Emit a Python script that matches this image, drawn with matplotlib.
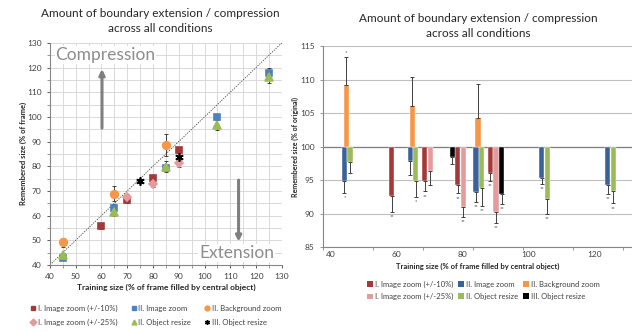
import numpy as np
import matplotlib.pyplot as plt
from matplotlib.patches import Patch
from matplotlib.lines import Line2D

plt.rcParams['font.family'] = ['Lato', 'DejaVu Sans']

# Data per condition: training size, remembered size (% of frame),
# remembered size (% of original), error, significance marks
red_x = [60, 70, 80, 90]
red_frame = [55.7, 66.2, 75.1, 86.6]
red_frame_err = [1.3, 1.1, 1.0, 1.0]
red_orig = [92.6, 94.9, 94.2, 96.0]
red_err = [2.3, 1.6, 1.2, 1.1]
red_sig = ['**', '**', '**', '**']

pink_x = [70, 80, 90]
pink_frame = [67.4, 72.8, 81.2]
pink_frame_err = [1.5, 1.2, 1.5]
pink_orig = [96.4, 91.0, 90.3]
pink_err = [2.1, 1.5, 1.7]
pink_sig = ['', '**', '**']

blue_x = [45, 65, 85, 105, 125]
blue_frame = [42.8, 63.2, 79.3, 99.9, 117.9]
blue_frame_err = [1.0, 1.3, 1.3, 1.0, 1.7]
blue_orig = [94.9, 97.8, 93.2, 95.3, 94.3]
blue_err = [1.8, 2.0, 1.5, 0.9, 1.4]
blue_sig = ['*', '', '**', '**', '**']

orange_x = [45, 65, 85]
orange_frame = [49.2, 68.9, 88.6]
orange_frame_err = [1.9, 2.9, 4.3]
orange_orig = [109.25, 106.0, 104.3]
orange_err = [4.2, 4.4, 5.1]
orange_sig = ['*', '', '']

green_x = [45, 65, 85, 105, 125]
green_frame = [43.9, 61.5, 79.8, 96.8, 116.3]
green_frame_err = [1.0, 1.5, 2.3, 2.3, 2.4]
green_orig = [97.7, 94.9, 93.8, 92.2, 93.4]
green_err = [1.7, 2.4, 2.7, 2.2, 1.9]
green_sig = ['', '*', '**', '**', '**']

black_x = [75, 90]
black_frame = [74.0, 83.9]
black_frame_err = [0.8, 1.4]
black_orig = [98.4, 92.9]
black_err = [1.0, 1.5]
black_sig = ['', '**']

labels = ['I. Image zoom (+/-10%)', 'I. Image zoom (+/-25%)', 'II. Image zoom',
          'II. Object resize', 'II. Background zoom', 'III. Object resize']

c_red = '#A5393A'
c_pink = '#E29C9C'
c_blue_l = '#4F81BD'
c_blue_r = '#3A6298'
c_orange = '#F79646'
c_green = '#9BBB59'
c_black = '#000000'

title = 'Amount of boundary extension / compression\nacross all conditions'
xlab = 'Training size (% of frame filled by central object)'

fig = plt.figure(figsize=(6.32, 3.32), dpi=100)

# ---------------- left: scatter ----------------
ax1 = fig.add_axes([0.079, 0.202, 0.367, 0.669])
ax1.set_xlim(40, 130)
ax1.set_ylim(40, 130)
ax1.set_xticks(np.arange(40, 131, 10))
ax1.set_yticks(np.arange(40, 131, 10))
ax1.set_xticks(np.arange(45, 130, 10), minor=True)
ax1.set_yticks(np.arange(45, 130, 10), minor=True)
ax1.grid(which='both', color='#D9D9D9', lw=0.7)
ax1.set_axisbelow(True)
for s in ['top', 'right']:
    ax1.spines[s].set_visible(False)
for s in ['left', 'bottom']:
    ax1.spines[s].set_color('#868686')
ax1.tick_params(labelsize=6, colors='#404040', length=2.5, width=0.6)
ax1.tick_params(which='minor', length=2.5, width=0.6, color='#868686')
ax1.plot([40, 130], [40, 130], ls=(0, (1.5, 1.5)), color='#404040', lw=0.6, zorder=1)

ax1.text(42.2, 125, 'Compression', fontsize=12.5, color='#8C8C8C', va='center', ha='left',
         bbox=dict(facecolor='white', edgecolor='none', pad=0.5))
ax1.text(127, 44.9, 'Extension', fontsize=12.5, color='#8C8C8C', va='center', ha='right',
         bbox=dict(facecolor='white', edgecolor='none', pad=0.5))
ax1.annotate('', xy=(60.2, 120.5), xytext=(60.2, 94.3),
             arrowprops=dict(arrowstyle='-|>', color='#7F7F7F', lw=2.2, mutation_scale=8))
ax1.annotate('', xy=(113.2, 48.3), xytext=(113.2, 75.5),
             arrowprops=dict(arrowstyle='-|>', color='#7F7F7F', lw=2.2, mutation_scale=8))

series_left = [
    (red_x, red_frame, red_frame_err, c_red, 's', 5),
    (pink_x, pink_frame, pink_frame_err, c_pink, 'D', 4.5),
    (blue_x, blue_frame, blue_frame_err, c_blue_l, 's', 5),
    (green_x, green_frame, green_frame_err, c_green, '^', 5.5),
    (orange_x, orange_frame, orange_frame_err, c_orange, 'o', 5.5),
    (black_x, black_frame, black_frame_err, c_black, (6, 2, 0), 6),
]
handles_left = []
for (xs, ys, es, col, mk, ms), lab in zip(series_left, labels):
    ax1.errorbar(xs, ys, yerr=es, fmt='none', ecolor='#262626', elinewidth=0.6,
                 capsize=1.5, capthick=0.6, zorder=3)
    ax1.plot(xs, ys, ls='none', marker=mk, color=col, ms=ms, mew=1.2, zorder=4)
    handles_left.append(Line2D([], [], ls='none', marker=mk, color=col, ms=3.5, mew=1))
ax1.set_xlabel(xlab, fontsize=6, fontweight='bold', color='#262626', labelpad=2.5)
ax1.set_ylabel('Remembered size (% of frame)', fontsize=5.5, fontweight='bold',
               color='#262626', labelpad=0)
fig.text(0.253, 0.975, title, ha='center', va='top', fontsize=8.5, color='#262626',
         linespacing=1.45)
fig.legend(handles_left, labels, ncol=3, loc='center', bbox_to_anchor=(0.247, 0.05),
           frameon=False, fontsize=5.6, handlelength=0.6, handletextpad=0.3,
           columnspacing=1.8, labelspacing=0.85, labelcolor='#404040')

# ---------------- right: bars ----------------
ax2 = fig.add_axes([0.511, 0.256, 0.489, 0.605])
ax2.set_xlim(37.6, 131.5)
ax2.set_ylim(85, 115)
ax2.set_yticks(np.arange(85, 116, 5))
ax2.set_xticks(np.arange(40, 121, 20))
ax2.set_xticks(np.arange(37.6, 131.5, 15.2), minor=True)
ax2.yaxis.grid(True, color='#BFBFBF', lw=0.8)
ax2.set_axisbelow(True)
for s in ['top', 'right']:
    ax2.spines[s].set_visible(False)
for s in ['left', 'bottom']:
    ax2.spines[s].set_color('#868686')
ax2.tick_params(axis='x', which='major', length=0, labelsize=6, colors='#404040', pad=3)
ax2.tick_params(axis='x', which='minor', length=2.5, width=0.6, color='#868686')
ax2.tick_params(axis='y', length=2.5, width=0.6, labelsize=6, colors='#404040', color='#868686')
ax2.axhline(100, color='#7F7F7F', lw=0.9, zorder=1)

bw = 1.6
series_right = [
    (red_x, red_orig, red_err, red_sig, c_red, -1.5),
    (pink_x, pink_orig, pink_err, pink_sig, c_pink, 0.2),
    (blue_x, blue_orig, blue_err, blue_sig, c_blue_r, -0.9),
    (green_x, green_orig, green_err, green_sig, c_green, 0.8),
    (orange_x, orange_orig, orange_err, orange_sig, c_orange, -0.3),
    (black_x, black_orig, black_err, black_sig, c_black, 1.9),
]
handles_right = []
for (xs, vs, es, sg, col, off) in series_right:
    xp = np.array(xs) + off
    h = np.array(vs) - 100
    ax2.bar(xp, h, bottom=100, width=bw, color=col, edgecolor='white', lw=0.3, zorder=2)
    lo = [e if v < 100 else 0 for v, e in zip(vs, es)]
    hi = [e if v >= 100 else 0 for v, e in zip(vs, es)]
    ax2.errorbar(xp, vs, yerr=[lo, hi], fmt='none', ecolor='#404040', elinewidth=0.7,
                 capsize=1.2, capthick=0.7, zorder=3)
    for x, v, e, s in zip(xp, vs, es, sg):
        if not s:
            continue
        if v < 100:
            ax2.text(x, v - e - 0.35, s, ha='center', va='top', fontsize=4, color='#404040')
        else:
            ax2.text(x, v + e + 0.2, s, ha='center', va='bottom', fontsize=4, color='#404040')
    handles_right.append(Patch(facecolor=col, edgecolor='none'))
ax2.set_xlabel(xlab, fontsize=5.5, fontweight='bold', color='#262626', labelpad=3)
ax2.set_ylabel('Remembered size (% of original)', fontsize=5, fontweight='bold',
               color='#262626', labelpad=0.5)
fig.text(0.757, 0.96, title, ha='center', va='top', fontsize=8.5, color='#262626',
         linespacing=1.45)
fig.legend(handles_right, labels, ncol=3, loc='center', bbox_to_anchor=(0.765, 0.125),
           frameon=False, fontsize=5.5, handlelength=0.8, handleheight=0.8,
           handletextpad=0.3, columnspacing=0.6, labelspacing=0.7, labelcolor='#404040')

fig.savefig('out.png', dpi=100)
